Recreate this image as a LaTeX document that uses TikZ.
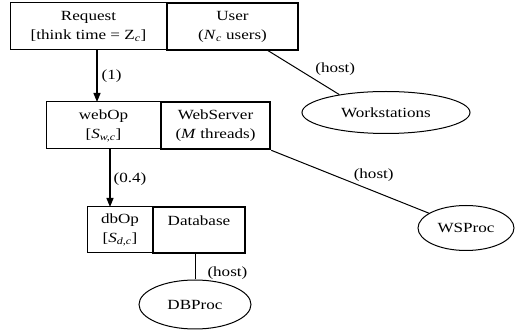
\documentclass[tikz,border=0pt]{standalone}
\usepackage{fontspec}
\setmainfont{Liberation Serif}[FakeStretch=1.22]
\usetikzlibrary{shapes.geometric,arrows.meta}
\begin{document}
\begin{tikzpicture}[x=1pt,y=1pt,
  every node/.style={font=\fontsize{14}{19}\selectfont},
  thinbox/.style={draw,line width=1pt,inner sep=0pt,align=center},
  thickbox/.style={draw,line width=2.6pt,inner sep=0pt,align=center},
  proc/.style={draw,ellipse,line width=1pt,inner sep=0pt},
  call/.style={line width=1.2pt,-{Triangle[length=9pt,width=7pt]}},
  host/.style={line width=1pt},
  lbl/.style={inner sep=0pt}]
\useasboundingbox (0,0) rectangle (515,-331);
% task row 1
\node[thinbox,minimum width=157pt,minimum height=47pt] (req) at (88.5,-26.5) {Request\\{[}think time = Z\textsubscript{\textit{c}}{]}};
\node[thickbox,minimum width=131pt,minimum height=47pt] (user) at (232.5,-26.5) {User\\(\textit{N}\textsubscript{\textit{c}} users)};
% row 2
\node[thinbox,minimum width=115pt,minimum height=47pt] (webop) at (103.5,-125.5) {webOp\\{[}\textit{S}\textsubscript{\textit{w,c}}{]}};
\node[thickbox,minimum width=109pt,minimum height=47pt] (websrv) at (215.5,-125.5) {WebServer\\(\textit{M} threads)};
% row 3
\node[thinbox,minimum width=66pt,minimum height=46pt] (dbop) at (120,-230) {dbOp\\{[}\textit{S}\textsubscript{\textit{d,c}}{]}};
\node[thickbox,minimum width=92pt,minimum height=46pt] (db) at (199,-230) {Database\\~};
% processors
\node[proc,minimum width=168pt,minimum height=42pt] (wks) at (386,-112.5) {Workstations};
\node[proc,minimum width=96pt,minimum height=45pt] (wsp) at (466,-228) {WSProc};
\node[proc,minimum width=112pt,minimum height=49pt] (dbp) at (195,-304.5) {DBProc};
% connection points
\coordinate (c1) at (97,-50);
\coordinate (c2) at (97,-102);
\coordinate (d1) at (110,-149);
\coordinate (d2) at (110,-207);
\coordinate (u1) at (267,-50);
\coordinate (dbh) at (195,-253);
% calls
\draw[call] (c1) -- (c2) node[lbl,midway,anchor=west,xshift=4pt] {(1)};
\draw[call] (d1) -- (d2) node[lbl,pos=0.52,anchor=west,xshift=3pt] {(0.4)};
% host links
\draw[host] (u1) -- (wks.159) node[lbl,pos=0.62,anchor=south west,xshift=3pt,yshift=2pt] {(host)};
\draw[host] (websrv.south east) -- (wsp) node[lbl,pos=0.52,anchor=south west,xshift=0pt,yshift=1pt] {(host)};
\draw[host] (dbh) -- (dbp) node[lbl,pos=0.75,anchor=west,xshift=12pt] {(host)};
\end{tikzpicture}
\end{document}
